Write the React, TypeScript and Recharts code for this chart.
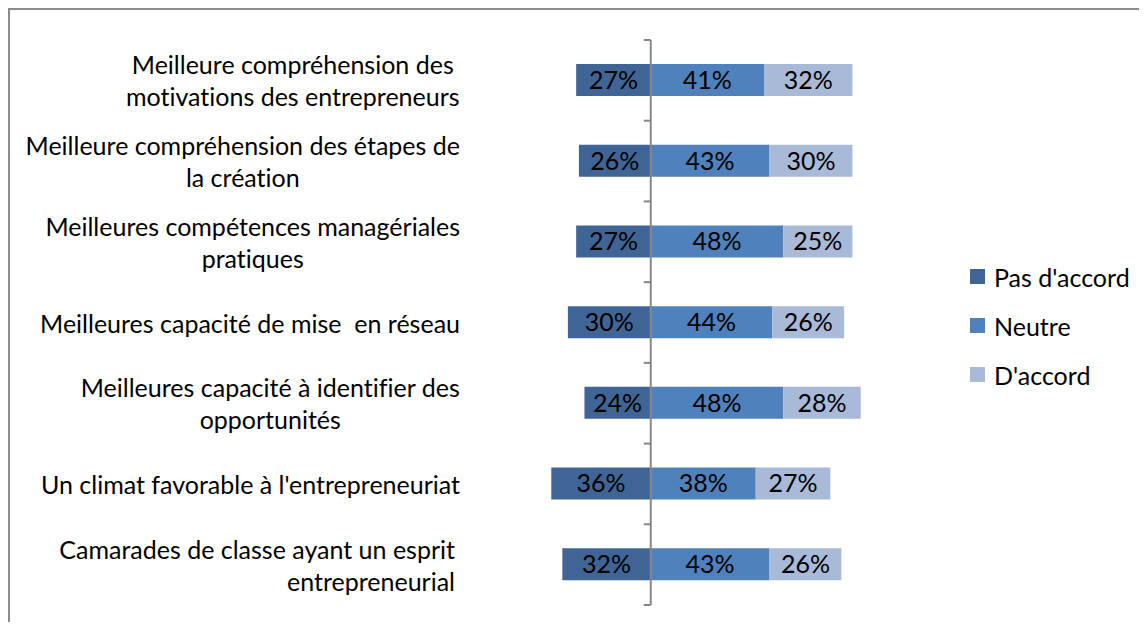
import React from 'react';
import { BarChart, Bar, XAxis, YAxis, ReferenceLine, LabelList, Legend } from 'recharts';

const CATEGORIES = [
  'Meilleure compréhension des\nmotivations des entrepreneurs',
  'Meilleure compréhension des étapes de\nla création',
  'Meilleures compétences managériales\npratiques',
  'Meilleures capacité de mise  en réseau',
  'Meilleures capacité à identifier des\nopportunités',
  "Un climat favorable à l'entrepreneuriat",
  'Camarades de classe ayant un esprit\nentrepreneurial',
];
const SERIES = ["Pas d'accord", 'Neutre', "D'accord"];
const PAS_D_ACCORD = [27, 26, 27, 30, 24, 36, 32];
const NEUTRE = [41, 43, 48, 44, 48, 38, 43];
const D_ACCORD = [32, 30, 25, 26, 28, 27, 26];
const LABEL_ALIGN = ['center', 'center', 'center', 'center', 'center', 'center', 'right'];
const COLORS = ['#3F6597', '#4F81BD', '#A9BAD9'];

const FONT = 'Lato, "Liberation Sans", sans-serif';
const FS = 25;
const LINE_H = 32;

const CHART_W = 1129;
const CHART_H = 612;
const MARGIN = { top: 30, right: 212, bottom: 17, left: 0 };
const Y_AXIS_W = 475;
const X_MIN = -60;
const X_MAX = 100;
const PLOT_W = CHART_W - MARGIN.left - MARGIN.right - Y_AXIS_W;
const PLOT_H = CHART_H - MARGIN.top - MARGIN.bottom;
const BAND = PLOT_H / CATEGORIES.length;
const LABEL_GAP = 25;
const AXIS_COLOR = '#878787';
const TEXT_STYLE: React.CSSProperties = { whiteSpace: 'pre', fontVariantLigatures: 'none' };

const data = CATEGORIES.map((cat, i) => ({
  cat,
  pas: -PAS_D_ACCORD[i],
  neutre: NEUTRE[i],
  daccord: D_ACCORD[i],
}));

let measureCtx: CanvasRenderingContext2D | null = null;
const measure = (s: string) => {
  if (!measureCtx) {
    const c = document.createElement('canvas');
    measureCtx = c.getContext('2d');
  }
  if (!measureCtx) return s.length * FS * 0.5;
  measureCtx.font = `${FS}px ${FONT}`;
  return measureCtx.measureText(s).width;
};

const CategoryTick = (props: any) => {
  const { x, y, payload } = props;
  const value: string = payload.value;
  const idx = CATEGORIES.indexOf(value);
  const lines = value.split('\n');
  const widths = lines.map(measure);
  const blockW = Math.max(...widths);
  const right = x - LABEL_GAP;
  const align = LABEL_ALIGN[idx] || 'center';
  const zeroX = x + ((0 - X_MIN) / (X_MAX - X_MIN)) * PLOT_W;
  const startY = y - ((lines.length - 1) * LINE_H) / 2;
  return (
    <g>
      <text
        fontFamily={FONT}
        fontSize={FS}
        fill="#000"
        style={TEXT_STYLE}
        dominantBaseline="central"
      >
        {lines.map((ln, i) => (
          <tspan
            key={i}
            x={align === 'center' ? right - blockW / 2 : right - 5}
            y={startY + i * LINE_H}
            textAnchor={align === 'center' ? 'middle' : 'end'}
          >
            {ln}
          </tspan>
        ))}
      </text>
      <line x1={zeroX - 7} x2={zeroX} y1={y - BAND / 2} y2={y - BAND / 2} stroke={AXIS_COLOR} strokeWidth={2} />
      {idx === CATEGORIES.length - 1 && (
        <line x1={zeroX - 7} x2={zeroX} y1={y + BAND / 2} y2={y + BAND / 2} stroke={AXIS_COLOR} strokeWidth={2} />
      )}
    </g>
  );
};

const LegendContent = () => (
  <div style={{ fontFamily: FONT, fontSize: FS, color: '#000' }}>
    {SERIES.map((s, i) => (
      <div key={s} style={{ display: 'flex', alignItems: 'center', height: 49, whiteSpace: 'nowrap' }}>
        <span style={{ display: 'inline-block', width: 15, height: 15, background: COLORS[i], marginRight: 9 }} />
        {s}
      </div>
    ))}
  </div>
);

const fmt = (v: any) => `${Math.abs(Number(v))}%`;

export default function App() {
  return (
    <div
      style={{
        borderTop: '2px solid #8c8c8c',
        borderLeft: '2px solid #8c8c8c',
        width: 1131,
        height: 614,
        boxSizing: 'border-box',
        background: '#fff',
      }}
    >
      <BarChart
        width={CHART_W}
        height={CHART_H}
        data={data}
        layout="vertical"
        stackOffset="sign"
        margin={MARGIN}
        barSize={32}
      >
        <XAxis type="number" domain={[X_MIN, X_MAX]} hide allowDataOverflow />
        <YAxis
          type="category"
          dataKey="cat"
          width={Y_AXIS_W}
          axisLine={false}
          tickLine={false}
          tickSize={0}
          tickMargin={0}
          interval={0}
          tick={<CategoryTick />}
        />
        <Bar dataKey="pas" name={SERIES[0]} stackId="s" fill={COLORS[0]} isAnimationActive={false}>
          <LabelList dataKey="pas" position="center" formatter={fmt} fill="#000" fontSize={FS} fontFamily={FONT} />
        </Bar>
        <Bar dataKey="neutre" name={SERIES[1]} stackId="s" fill={COLORS[1]} isAnimationActive={false}>
          <LabelList dataKey="neutre" position="center" formatter={fmt} fill="#000" fontSize={FS} fontFamily={FONT} />
        </Bar>
        <Bar dataKey="daccord" name={SERIES[2]} stackId="s" fill={COLORS[2]} isAnimationActive={false}>
          <LabelList dataKey="daccord" position="center" formatter={fmt} fill="#000" fontSize={FS} fontFamily={FONT} />
        </Bar>
        <ReferenceLine x={0} stroke={AXIS_COLOR} strokeWidth={2} />
        <Legend
          layout="vertical"
          align="center"
          verticalAlign="middle"
          content={<LegendContent />}
          wrapperStyle={{ left: 960, top: 242, width: 'auto' }}
        />
      </BarChart>
    </div>
  );
}
